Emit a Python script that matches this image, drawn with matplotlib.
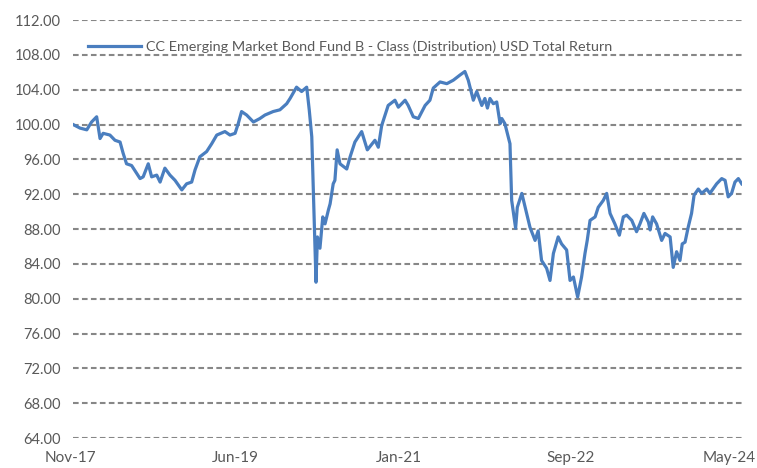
import matplotlib
matplotlib.use("Agg")
import matplotlib.pyplot as plt
import matplotlib.dates as mdates
import matplotlib.transforms as mtransforms
import pandas as pd

plt.rcParams['font.family'] = ['Lato', 'DejaVu Sans']

# traced fund values (USD total return, rebased to 100)
dates = ["2017-11-02", "2017-11-26", "2017-12-20", "2018-01-06", "2018-01-24", "2018-02-05",
         "2018-02-16", "2018-03-12", "2018-03-30", "2018-04-17", "2018-04-28", "2018-05-10",
         "2018-05-28", "2018-06-27", "2018-07-08", "2018-07-26", "2018-08-07", "2018-08-25",
         "2018-09-06", "2018-09-23", "2018-10-11", "2018-10-29", "2018-11-22", "2018-12-09",
         "2018-12-27", "2019-01-08", "2019-01-25", "2019-02-18", "2019-03-08", "2019-03-26",
         "2019-04-24", "2019-05-12", "2019-05-30", "2019-06-10", "2019-06-22", "2019-07-10",
         "2019-08-03", "2019-08-26", "2019-09-13", "2019-10-12", "2019-11-05", "2019-11-29",
         "2019-12-11", "2020-01-03", "2020-01-21", "2020-02-08", "2020-02-17", "2020-02-26",
         "2020-03-12", "2020-03-17", "2020-03-26", "2020-04-05", "2020-04-13", "2020-04-25",
         "2020-05-01", "2020-05-12", "2020-05-18", "2020-05-26", "2020-06-05", "2020-06-29",
         "2020-07-11", "2020-07-28", "2020-08-21", "2020-09-10", "2020-10-07", "2020-10-19",
         "2020-10-31", "2020-11-23", "2020-12-17", "2020-12-29", "2021-01-22", "2021-02-02",
         "2021-02-20", "2021-03-10", "2021-04-03", "2021-04-20", "2021-05-02", "2021-05-26",
         "2021-06-19", "2021-07-12", "2021-08-05", "2021-08-22", "2021-09-03", "2021-09-21",
         "2021-10-03", "2021-10-21", "2021-11-01", "2021-11-10", "2021-11-19", "2021-12-01",
         "2021-12-13", "2021-12-25", "2021-12-31", "2022-01-11", "2022-01-29", "2022-02-04",
         "2022-02-18", "2022-02-24", "2022-03-12", "2022-03-29", "2022-04-10", "2022-04-28",
         "2022-05-09", "2022-05-21", "2022-06-08", "2022-06-20", "2022-07-02", "2022-07-19",
         "2022-07-31", "2022-08-18", "2022-08-30", "2022-09-11", "2022-09-26", "2022-10-10",
         "2022-10-22", "2022-10-30", "2022-11-09", "2022-11-27", "2022-12-08", "2022-12-26",
         "2023-01-07", "2023-01-19", "2023-02-05", "2023-02-21", "2023-03-07", "2023-03-19",
         "2023-04-06", "2023-04-23", "2023-05-05", "2023-05-19", "2023-06-04", "2023-06-10",
         "2023-06-19", "2023-07-03", "2023-07-21", "2023-08-02", "2023-08-20", "2023-08-31",
         "2023-09-12", "2023-09-24", "2023-10-02", "2023-10-12", "2023-10-23", "2023-11-04",
         "2023-11-13", "2023-11-28", "2023-12-10", "2023-12-28", "2024-01-08", "2024-02-01",
         "2024-02-19", "2024-03-02", "2024-03-13", "2024-03-25", "2024-04-06", "2024-04-18",
         "2024-04-30"]
values = [100.0, 99.6, 99.4, 100.3, 100.9, 98.4,
          99.0, 98.8, 98.2, 98.0, 96.7, 95.5,
          95.3, 93.8, 94.0, 95.5, 94.0, 94.2,
          93.4, 95.0, 94.2, 93.6, 92.5, 93.2,
          93.4, 94.8, 96.3, 96.9, 97.8, 98.8,
          99.2, 98.8, 99.0, 100.1, 101.5, 101.1,
          100.3, 100.7, 101.1, 101.5, 101.7, 102.4,
          103.0, 104.3, 103.8, 104.3, 101.7, 98.6,
          81.9, 87.1, 85.8, 89.4, 88.6, 90.2,
          90.9, 93.2, 93.6, 97.1, 95.5, 94.9,
          96.3, 98.0, 99.2, 97.1, 98.2, 97.4,
          99.9, 102.2, 102.8, 102.0, 102.8, 102.2,
          100.9, 100.7, 102.2, 102.8, 104.2, 104.9,
          104.7, 105.1, 105.7, 106.1, 105.1, 102.8,
          103.8, 102.2, 103.0, 101.9, 103.0, 102.4,
          102.6, 100.1, 100.7, 100.1, 97.8, 91.3,
          88.1, 90.5, 92.1, 89.8, 88.2, 86.7,
          87.8, 84.4, 83.5, 82.1, 85.2, 87.1,
          86.3, 85.6, 82.1, 82.5, 80.2, 82.5,
          85.2, 86.7, 89.0, 89.4, 90.5, 91.3,
          92.1, 89.8, 88.6, 87.3, 89.4, 89.6,
          89.0, 87.7, 88.6, 89.8, 88.8, 87.9,
          89.4, 88.6, 86.7, 87.5, 87.1, 83.6,
          85.4, 84.4, 86.3, 86.5, 88.2, 89.8,
          91.9, 92.6, 92.1, 92.6, 92.1, 93.2,
          93.8, 93.6, 91.7, 92.1, 93.4, 93.8,
          93.2]
series_name = "CC Emerging Market Bond Fund B - Class (Distribution) USD Total Return"
tick_dates = ["2017-11-01", "2019-06-01", "2021-01-01", "2022-09-01", "2024-05-01"]
y_ticks = list(range(64, 113, 4))

x = pd.to_datetime(dates)
fig = plt.figure(figsize=(7.57, 4.68), dpi=100)
ax = fig.add_axes([0.0964, 0.064, 0.8838, 0.893])

for yv in y_ticks:
    ax.axhline(yv, color="#878787", lw=1.5, ls=(0, (2.7, 1.6)), zorder=1)

ax.plot(x, values, color="#4A7EBF", lw=2.3, label=series_name, zorder=3,
        solid_joinstyle="round")

ax.set_ylim(64, 112)
ax.set_yticks(y_ticks)
ax.set_yticklabels(["%0.2f" % v for v in y_ticks])
ax.set_xlim(pd.Timestamp(tick_dates[0]), pd.Timestamp(tick_dates[-1]))
ax.set_xticks(pd.to_datetime(tick_dates))
ax.xaxis.set_major_formatter(mdates.DateFormatter("%b-%y"))

for s in ax.spines.values():
    s.set_visible(False)
ax.tick_params(length=0, labelsize=10.5, colors="#595959")
ax.tick_params(axis="y", pad=9)
ax.tick_params(axis="x", pad=9, labelsize=11)

# last date label pulled back inside the figure, like the original
fig.canvas.draw()
xlabels = ax.get_xticklabels()
xlabels[-1].set_transform(xlabels[-1].get_transform() +
                          mtransforms.ScaledTranslation(-0.13, 0, fig.dpi_scale_trans))
xlabels[0].set_transform(xlabels[0].get_transform() +
                         mtransforms.ScaledTranslation(-0.03, 0, fig.dpi_scale_trans))

leg = ax.legend(loc="center left", bbox_to_anchor=(0.1162, 0.901), bbox_transform=fig.transFigure,
                frameon=False, fontsize=10.4, handlelength=3.7, handletextpad=0.35,
                borderaxespad=0, borderpad=0)
for t in leg.get_texts():
    t.set_color("#595959")

fig.savefig("out.png", dpi=100)
